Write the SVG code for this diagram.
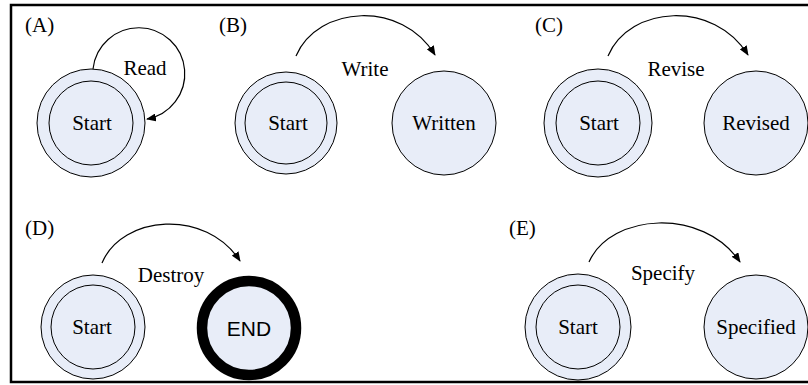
<svg xmlns="http://www.w3.org/2000/svg" width="808" height="385" viewBox="0 0 808 385">
  <style>
    .frame { fill: none; stroke: #000; stroke-width: 2.5; }
    .state { fill: #e8edf8; stroke: #000; stroke-width: 1; }
    .final { fill: #e8edf8; stroke: #000; stroke-width: 10.5; }
    .edge { fill: none; stroke: #000; stroke-width: 1.2; marker-end: url(#head); }
    .lbl { font-family: "Liberation Serif", "Times New Roman", serif; font-size: 21px; fill: #000; }
    .mid { text-anchor: middle; }
    .sans { font-family: "Liberation Sans", Arial, sans-serif; font-size: 21px; text-anchor: middle; fill: #000; }
  </style>
  <defs>
    <marker id="head" markerWidth="10" markerHeight="8" refX="9" refY="4" orient="auto" markerUnits="userSpaceOnUse">
      <path d="M0,0 L10,4 L0,8 z" fill="#000"/>
    </marker>
  </defs>

  <rect class="frame" x="11" y="5" width="820" height="377"/>

  <!-- panel captions -->
  <text class="lbl" x="25" y="32">(A)</text>
  <text class="lbl" x="219" y="32">(B)</text>
  <text class="lbl" x="535" y="32">(C)</text>
  <text class="lbl" x="25" y="235">(D)</text>
  <text class="lbl" x="509" y="235">(E)</text>

  <g id="connectors">
    <path id="e-read" class="edge" d="M93,69 A46,46 0 1 1 147,119"/>
    <path id="e-write" class="edge" d="M296,56 C318,5 402,0 435,55"/>
    <path id="e-revise" class="edge" d="M608,56 C630,5 714,0 748,55"/>
    <path id="e-destroy" class="edge" d="M102,263 C122,215 206,208 240,261"/>
    <path id="e-specify" class="edge" d="M589,262 C611,213 703,207 740,262"/>
  </g>
  <text class="lbl mid" x="145" y="75">Read</text>
  <text class="lbl mid" x="365" y="76">Write</text>
  <text class="lbl mid" x="676" y="76">Revise</text>
  <text class="lbl mid" x="171" y="282">Destroy</text>
  <text class="lbl mid" x="663" y="280">Specify</text>

  <g id="a-start">
    <circle class="state" cx="91" cy="123" r="54"/>
    <circle class="state" cx="91" cy="123" r="42"/>
    <text class="lbl mid" x="92" y="130">Start</text>
  </g>

  <g id="b-start">
    <circle class="state" cx="286" cy="123" r="51"/>
    <circle class="state" cx="286" cy="123" r="41"/>
    <text class="lbl mid" x="288" y="130">Start</text>
  </g>
  <g id="b-written">
    <circle class="state" cx="444" cy="123" r="52"/>
    <text class="lbl mid" x="444" y="130">Written</text>
  </g>

  <g id="c-start">
    <circle class="state" cx="598" cy="123" r="54"/>
    <circle class="state" cx="598" cy="123" r="42"/>
    <text class="lbl mid" x="599" y="130">Start</text>
  </g>
  <g id="c-revised">
    <circle class="state" cx="756" cy="123" r="52"/>
    <text class="lbl mid" x="756" y="130">Revised</text>
  </g>

  <g id="d-start">
    <circle class="state" cx="93" cy="327" r="52"/>
    <circle class="state" cx="93" cy="327" r="42"/>
    <text class="lbl mid" x="92" y="334">Start</text>
  </g>
  <g id="d-end">
    <circle class="final" cx="249" cy="328" r="47"/>
    <text class="sans" x="249" y="336">END</text>
  </g>

  <g id="e-start">
    <circle class="state" cx="578" cy="327" r="53"/>
    <circle class="state" cx="578" cy="327" r="42"/>
    <text class="lbl mid" x="578" y="334">Start</text>
  </g>
  <g id="e-specified">
    <circle class="state" cx="756" cy="327" r="52"/>
    <text class="lbl mid" x="756" y="334">Specified</text>
  </g>
</svg>
